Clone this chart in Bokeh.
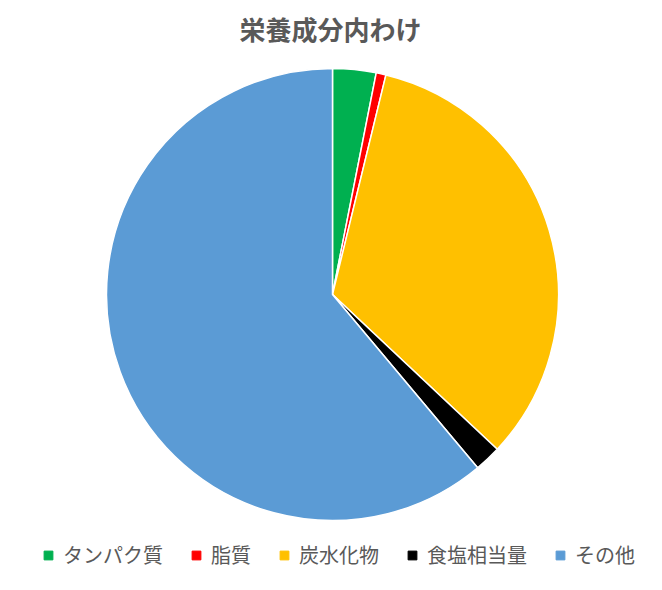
import numpy as np
from bokeh.plotting import figure, ColumnDataSource
from bokeh.models import Range1d, Label, Legend, LegendItem
from bokeh.embed import file_html
from bokeh.resources import INLINE

# 栄養成分の割合 (%)
categories = ["タンパク質", "脂質", "炭水化物", "食塩相当量", "その他"]
shares = [3.1, 0.7, 33.2, 1.9, 61.1]
colors = ["#00B050", "#FF0000", "#FFC000", "#000000", "#5B9BD5"]

FONT = "Noto Sans CJK JP"
W, H = 646, 574
CX, CY, R = 332, 280, 226

frac = np.array(shares) / np.sum(shares)
cum = np.concatenate([[0], np.cumsum(frac)])
start = np.pi / 2 - 2 * np.pi * cum[:-1]
end = np.pi / 2 - 2 * np.pi * cum[1:]

src = ColumnDataSource(data=dict(
    name=categories,
    start=start,
    end=end,
    color=colors,
))

p = figure(width=W, height=H, x_range=Range1d(0, W), y_range=Range1d(0, H),
           x_axis_location=None, y_axis_location=None,
           toolbar_location=None, output_backend="svg", min_border=0)
p.grid.visible = False
p.outline_line_color = None

p.wedge(x=CX, y=CY, radius=R, start_angle="start", end_angle="end",
        direction="clock", fill_color="color", line_color="white",
        line_width=1.5, source=src)

p.add_layout(Label(x=330, y=546, text="栄養成分内わけ", text_align="center",
                   text_baseline="middle", text_font_size="26px",
                   text_font_style="bold",
                   text_color="#595959", text_font=FONT))

# legend swatches (hidden points, only the legend glyph is shown)
items = []
for name, c in zip(categories, colors):
    r = p.scatter(x=[np.nan], y=[np.nan], marker="square", size=9,
                  fill_color=c, line_color=c)
    items.append(LegendItem(label=name, renderers=[r]))

legend = Legend(items=items, orientation="horizontal", location=(37, 5),
                glyph_width=22, glyph_height=22, label_standoff=4, spacing=22,
                padding=0, margin=0, border_line_alpha=0, background_fill_alpha=0,
                label_text_font=FONT, label_text_font_size="20px",
                label_text_color="#595959")
p.add_layout(legend, "center")

open("out.html", "w").write(file_html(p, INLINE))
